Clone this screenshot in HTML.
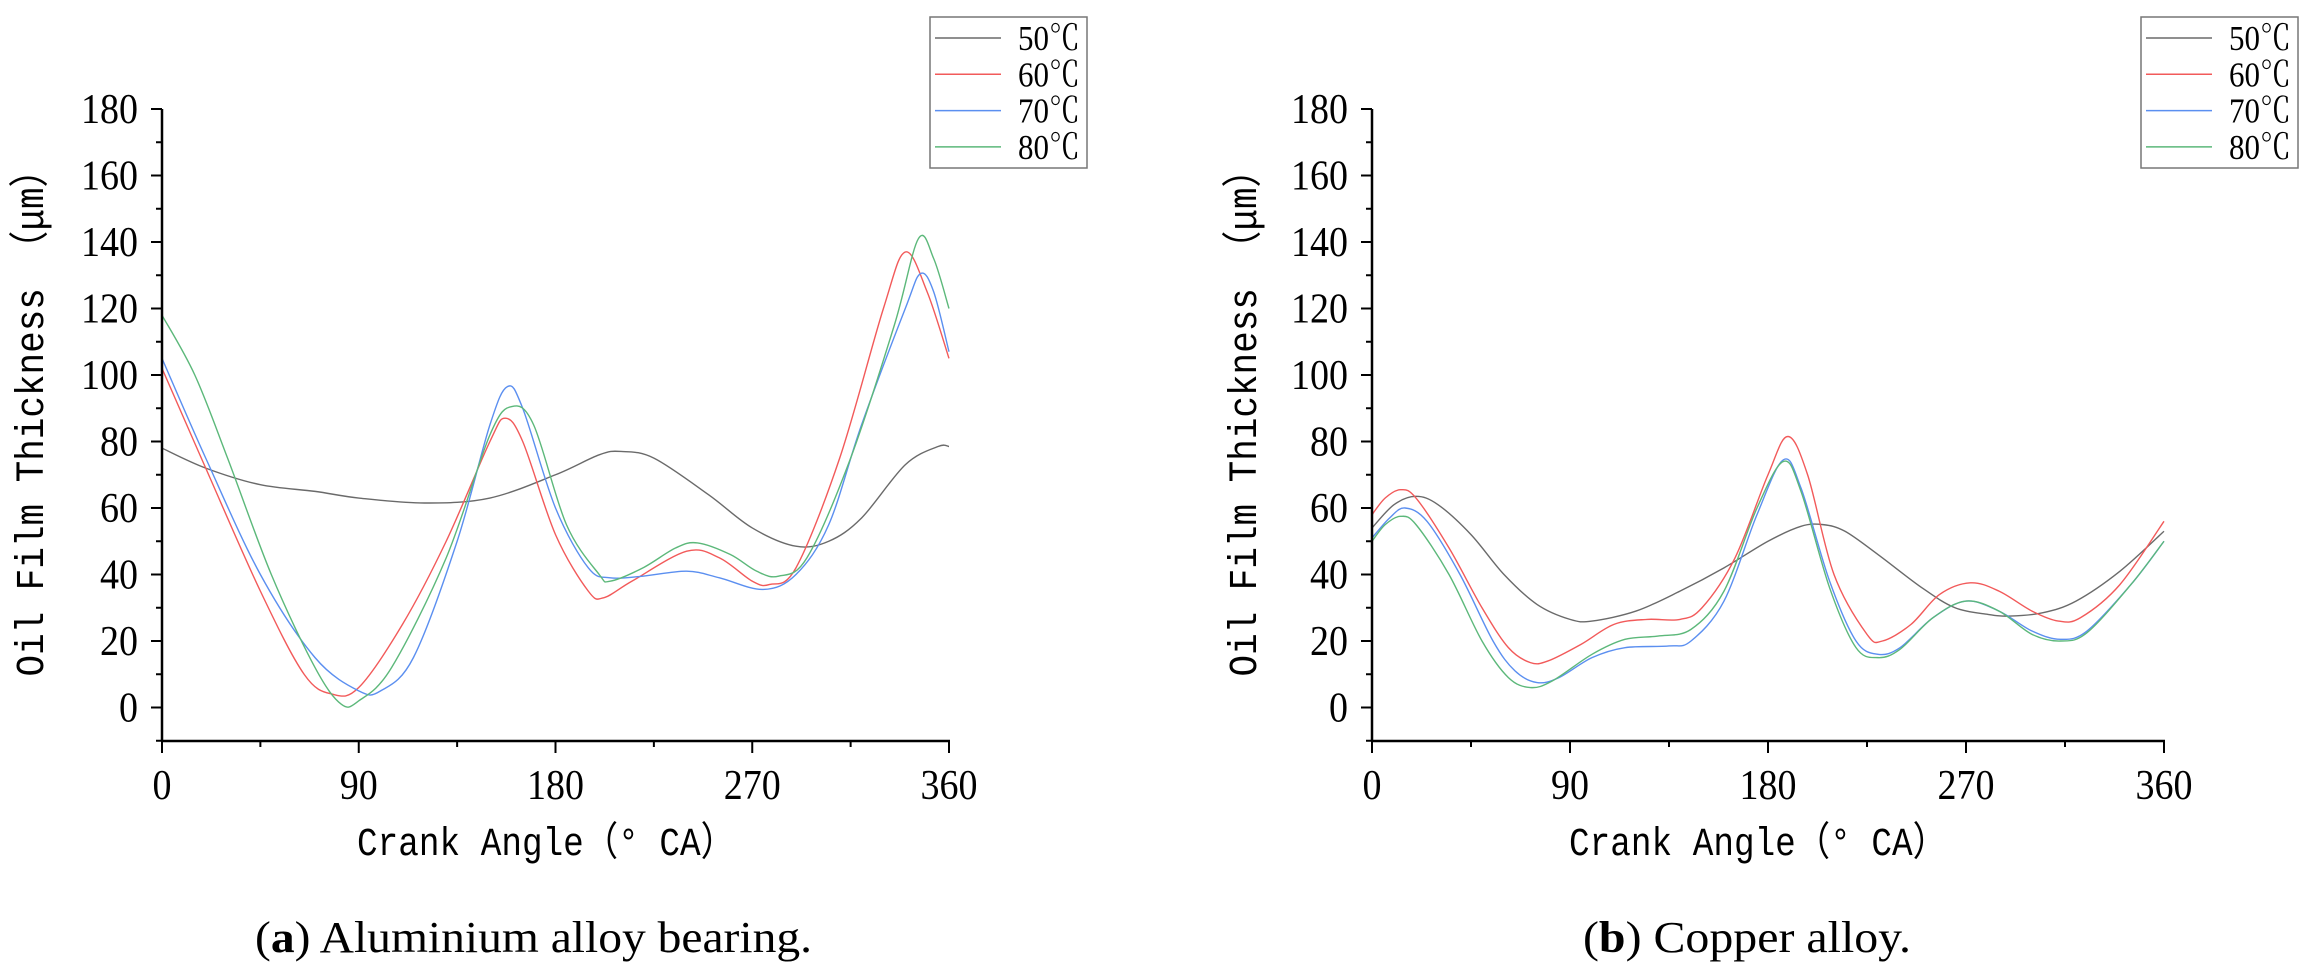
<!DOCTYPE html>
<html><head><meta charset="utf-8"><style>
html,body{margin:0;padding:0;background:#fff;}
svg{display:block;}
text{font-family:"Liberation Serif","Noto Serif CJK SC",serif;fill:#000;}
.mono{font-family:"Liberation Mono","Noto Sans CJK SC",monospace;}
</style></head><body>
<svg id="fig" width="2315" height="974" viewBox="0 0 2315 974" xmlns="http://www.w3.org/2000/svg"></svg>
<script>
const xTicks=[0,90,180,270,360];
const yTicks=[0,20,40,60,80,100,120,140,160,180];
const seriesNames=["50℃","60℃","70℃","80℃"];
const seriesColors=["#6a6a6a","#f25a5a","#5b8ff0","#5cb87a"];
// Panel A: aluminium alloy
const a50x=[0,20,45,70,90,120,150,180,200,210,225,250,270,290,305,320,340,355,360];
const a50y=[78,72,67,65,63,61.5,63,70,76,77,75,64,54,48.5,50,57,73,78.5,78.5];
const a60x=[0,20,45,65,78,90,110,130,150,157,165,180,195,202,215,240,255,270,278,290,310,330,340,350,360];
const a60y=[102,72,35,10,4,6,25,50,80,87,80,52,35,33,38,47,45,38,37,42,75,120,137,125,105];
const a70x=[0,20,45,70,90,100,115,135,150,158,165,180,195,205,220,240,255,275,290,305,320,340,347,353,360];
const a70y=[105,75,40,15,5,5,15,50,85,96.5,90,60,42,39,39.5,41,39,35.5,40,55,85,120,130.5,125,107];
const a80x=[0,15,30,50,70,82,90,105,130,150,160,170,185,200,205,220,235,245,260,272,282,295,315,335,346,353,360];
const a80y=[118,100,75,40,12,1,2,12,45,82,90.5,85,55,40,38,42,48,49.5,46,41,39.5,45,75,115,141,135,120];
// Panel B: copper alloy
const b50x=[0,10,20,30,45,60,75,90,100,120,140,160,180,195,205,215,230,250,265,280,290,305,320,340,360];
const b50y=[54,61,63.5,61,52,40,31,26.5,26,29,35,42,50,54.5,55,53,46,36,30,28,27.5,28.5,32,41,53];
const b60x=[0,6,13,20,35,50,62,72,80,95,110,125,140,150,165,180,189,198,210,225,232,245,258,272,285,300,312,322,340,360];
const b60y=[58,63,65.5,63,48,30,18,13.5,14,19,25,26.5,26.5,30,45,70,81.5,70,40,22,20,25,34,37.5,35,29,26,27,37,56];
const b70x=[0,8,15,25,40,55,65,75,85,100,115,135,145,160,175,187,195,208,220,230,240,255,270,285,300,313,325,345,360];
const b70y=[51,57,60,56,40,20,11,7.5,9,15,18,18.5,20,32,58,74.5,66,38,20,16,18,27,32,29,23,20.5,23,37,50];
const b80x=[0,6,13,20,35,50,62,72,82,100,115,130,145,160,175,187,195,208,220,230,240,255,270,285,300,313,325,345,360];
const b80y=[50,55,57.5,55,40,20,9,6,8,16,20.5,21.5,23.5,35,60,74,65,36,18,15,17.5,27,32,29,22,20,22.5,37,50];

const NS="http://www.w3.org/2000/svg";
const svg=document.getElementById('fig');
function mk(tag,attrs,parent,txt){const e=document.createElementNS(NS,tag);for(const k in attrs)e.setAttribute(k,attrs[k]);if(txt!==undefined)e.textContent=txt;(parent||svg).appendChild(e);return e;}

function smoothPath(pts){
  let d="M"+pts[0][0].toFixed(2)+","+pts[0][1].toFixed(2);
  for(let i=0;i<pts.length-1;i++){
    const p0=pts[i-1]||pts[i],p1=pts[i],p2=pts[i+1],p3=pts[i+2]||pts[i+1];
    const c1=[p1[0]+(p2[0]-p0[0])/6,p1[1]+(p2[1]-p0[1])/6];
    const c2=[p2[0]-(p3[0]-p1[0])/6,p2[1]-(p3[1]-p1[1])/6];
    d+=" C"+c1[0].toFixed(2)+","+c1[1].toFixed(2)+" "+c2[0].toFixed(2)+","+c2[1].toFixed(2)+" "+p2[0].toFixed(2)+","+p2[1].toFixed(2);
  }
  return d;
}

function panel(cfg){
  const g=mk('g',{});
  
  
  const X0=cfg.x0,X1=cfg.x1,Y0=707.5,PX=3.325,YB=741;
  const xs=v=>X0+(v/360)*(X1-X0);
  const ys=v=>Y0-v*PX;
  cfg.series.forEach((s,i)=>{
    const pts=s[0].map((xv,j)=>[xs(xv),ys(s[1][j])]);
    const p=mk('path',{d:smoothPath(pts),fill:'none',stroke:seriesColors[i],'stroke-width':1.4},g);
    
    
  });
  const ya=mk('line',{x1:X0,y1:ys(180),x2:X0,y2:YB,stroke:'#000','stroke-width':2.5},g);
  
  
  const xa=mk('line',{x1:X0-1,y1:YB,x2:X1+1,y2:YB,stroke:'#000','stroke-width':2.5},g);
  
  
  yTicks.forEach(v=>{
    mk('line',{x1:X0-11,y1:ys(v),x2:X0,y2:ys(v),stroke:'#000','stroke-width':2},g);
    const s=String(v);
    const t=mk('text',{x:X0-24,y:ys(v)+14,'text-anchor':'end','font-size':42,textLength:19*s.length,lengthAdjust:'spacingAndGlyphs'},g,s);
    
    
  });
  for(let v=-10;v<180;v+=20){mk('line',{x1:X0-6,y1:ys(v),x2:X0,y2:ys(v),stroke:'#000','stroke-width':2},g);}
  xTicks.forEach(v=>{
    mk('line',{x1:xs(v),y1:YB,x2:xs(v),y2:YB+12,stroke:'#000','stroke-width':2},g);
    const s=String(v);
    const t=mk('text',{x:xs(v),y:799,'text-anchor':'middle','font-size':42,textLength:19*s.length,lengthAdjust:'spacingAndGlyphs'},g,s);
    
    
  });
  for(let v=45;v<360;v+=90){mk('line',{x1:xs(v),y1:YB,x2:xs(v),y2:YB+6,stroke:'#000','stroke-width':2},g);}
  const xt=mk('text',{x:cfg.xtX,y:855,'class':'mono','font-size':40,textLength:cfg.xtW,lengthAdjust:'spacingAndGlyphs',fill:'#222'},g,'Crank Angle（° CA）');
  
  
  const yt=mk('text',{x:0,y:0,'class':'mono','font-size':40,textLength:525,lengthAdjust:'spacingAndGlyphs','text-anchor':'middle',transform:'translate('+cfg.ytX+',414) rotate(-90)',fill:'#222'},g,'Oil Film Thickness （μm）');
  
  
  const lg=mk('g',{},g);
  
  
  mk('rect',{x:cfg.lx,y:17,width:157,height:151,fill:'#fff',stroke:'#777','stroke-width':1.5},lg);
  seriesNames.forEach((n,i)=>{
    const yy=38+i*36.3;
    const e=mk('g',{},lg);
    
    
    mk('line',{x1:cfg.lx+5,y1:yy,x2:cfg.lx+71,y2:yy,stroke:seriesColors[i],'stroke-width':1.5},e);
    mk('text',{x:cfg.lx+88,y:yy+12,'font-size':35,textLength:62,lengthAdjust:'spacingAndGlyphs'},e,n);
  });
  const cap=mk('text',{x:cfg.capX,y:952,'font-size':44,textLength:cfg.capW,lengthAdjust:'spacingAndGlyphs'},g);
  
  
  mk('tspan',{},cap,'(');
  mk('tspan',{'font-weight':'bold'},cap,cfg.capL);
  mk('tspan',{},cap,') '+cfg.capT);
}

panel({name:'panel-aluminium',x0:162,x1:949,ytX:43,xtX:357,xtW:378,lx:930,capX:255,capW:557,capL:'a',capT:'Aluminium alloy bearing.',
  series:[[a50x,a50y],[a60x,a60y],[a70x,a70y],[a80x,a80y]]});
panel({name:'panel-copper',x0:1372,x1:2164,ytX:1256,xtX:1569,xtW:378,lx:2141,capX:1583,capW:328,capL:'b',capT:'Copper alloy.',
  series:[[b50x,b50y],[b60x,b60y],[b70x,b70y],[b80x,b80y]]});
</script>
</body></html>
